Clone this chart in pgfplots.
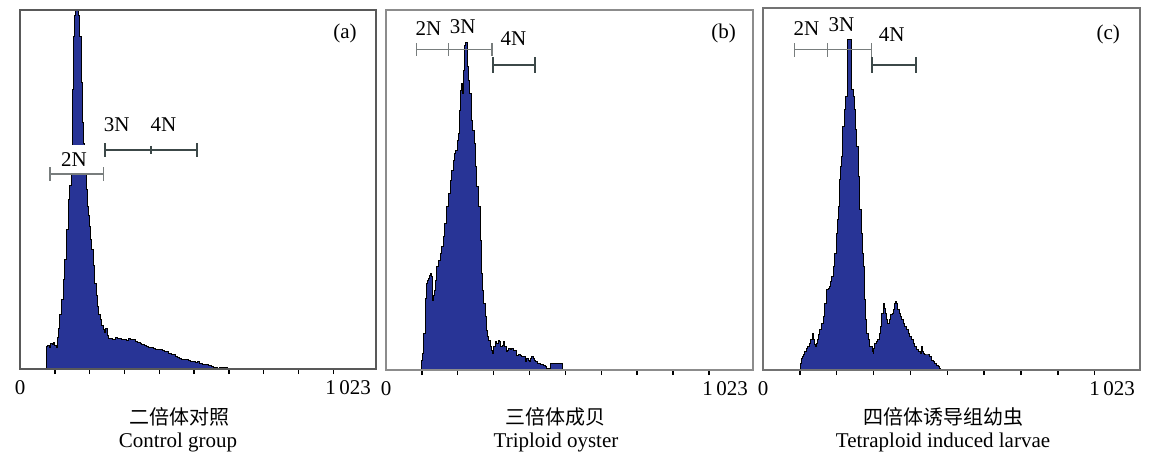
\documentclass[border=0pt]{standalone}
\usepackage{pgfplots}
\pgfplotsset{compat=1.18}
\usepackage{pgfplotstable}
\usepackage{fontspec}
\setmainfont{Liberation Serif}
\newfontfamily\cjk{Noto Sans CJK SC}
\definecolor{histblue}{RGB}{40,52,150}
\definecolor{gatelight}{RGB}{120,125,125}
\definecolor{gatedark}{RGB}{60,72,72}

\pgfplotstableread{
x h
0 0
76 0
77 68
80 72
84 64
87 78
92 75
96 80
100 70
104 66
107 95
110 123
114 165
119 208
124 270
129 328
134 420
139 508
143 550
147 588
150 678
152 840
155 998
158 1060
160 1200
166 1200
169 1060
172 998
176 860
180 740
182 678
186 588
190 540
193 488
196 460
199 428
203 390
206 358
210 310
215 258
219 220
222 188
226 165
230 148
235 130
239 118
243 110
247 123
250 100
254 93
260 92
265 88
268 90
274 95
280 92
287 93
293 90
300 88
306 86
312 92
318 90
325 88
331 84
338 80
345 78
350 75
357 70
364 68
370 66
376 64
383 63
390 60
396 58
402 58
409 55
415 53
421 53
428 48
434 45
440 43
446 38
453 36
459 33
465 30
472 30
479 28
485 26
491 24
498 23
504 20
510 22
517 18
523 15
530 14
536 13
542 10
549 7
556 6
562 5
568 3
574 4
580 4
590 4
597 0
1023 0
}\dataA

\pgfplotstableread{
x h
0 0
99 0
100 30
102 50
105 110
109 170
111 215
114 260
116 270
118 275
121 285
125 290
127 280
130 210
132 225
134 240
137 270
141 310
145 330
151 350
155 370
160 400
164 440
169 490
173 530
179 570
183 600
188 630
192 650
195 660
199 690
202 710
205 780
207 840
211 860
214 830
216 900
218 975
222 982
227 910
230 870
234 830
239 750
242 720
246 680
250 610
253 550
258 490
262 390
265 330
267 290
270 240
272 200
276 160
279 120
283 100
286 90
290 80
292 70
295 60
298 50
301 70
304 85
308 80
313 90
316 85
320 70
324 75
327 85
331 70
335 55
338 60
341 65
346 62
351 65
356 60
360 60
365 45
370 48
374 45
379 42
383 40
388 25
392 35
396 30
400 25
403 35
406 40
410 35
413 30
417 25
421 20
430 18
439 15
444 10
448 5
453 5
458 20
470 20
480 20
490 20
491 0
1023 0
}\dataB

\pgfplotstableread{
x h
0 0
101 0
102 20
104 35
106 40
109 45
113 55
118 65
122 70
127 80
130 90
134 110
136 100
138 90
141 75
143 70
145 80
147 90
151 105
154 120
158 140
163 160
166 180
168 200
172 240
177 245
181 250
184 265
186 280
190 310
193 330
195 350
199 410
202 450
204 490
208 570
211 610
213 640
217 730
220 760
222 780
225 820
228 990
240 840
243 840
246 820
249 780
252 720
254 670
258 580
261 520
263 480
267 410
270 350
272 310
276 210
279 150
281 110
285 90
288 75
290 70
294 70
297 55
299 50
301 65
303 80
308 85
312 90
315 110
318 130
322 170
326 200
329 185
331 170
335 150
339 140
343 150
347 165
350 170
353 180
357 200
360 205
363 200
366 180
369 170
372 160
376 150
380 140
385 130
390 120
394 110
398 100
403 90
407 80
412 70
417 60
421 55
426 50
430 70
433 55
435 50
439 45
445 45
452 40
457 30
462 25
466 20
471 15
475 10
480 5
481 0
1023 0
}\dataC

\pgfplotsset{
  panel/.style={
    anchor=south west, scale only axis,
    xmin=0, xmax=1023, ymin=0,
    xtick={100,200,...,900}, xticklabels={}, ytick=\empty,
    xtick pos=bottom,
    tick align=outside, major tick length=2.5pt,
    xtick style={black, line width=0.7pt},
    clip mode=individual,
    axis on top,
  },
  histfill/.style={const plot, fill=histblue, draw=none},
  histline/.style={const plot, black, line width=0.5pt},
}

\begin{document}
\begin{tikzpicture}[font=\fontsize{10.5pt}{12pt}\selectfont]
\useasboundingbox (0,0) rectangle (577pt,226pt);

% ---------- panel (a)
\begin{axis}[panel, at={(10pt,41.5pt)}, width=178pt, height=179.5pt, ymax=1078,
  axis line style={draw=black!65, line width=0.8pt}]
\addplot[histfill] table[x=x,y=h] {\dataA} \closedcycle;
\addplot[histline] table[x=x,y=h] {\dataA};
\node[fill=white, inner xsep=1pt, inner ysep=3.5pt] at (axis cs:155,630) {2N};
\addplot[gatelight, line width=0.7pt, |-|] coordinates {(84.3,586) (241.4,586)};
\addplot[gatedark, line width=0.8pt, |-|] coordinates {(242.3,658) (510.5,658)};
\addplot[gatedark, only marks, mark=|, mark size=2pt, line width=1pt] coordinates {(376.4,658)};
\node at (axis cs:278,733) {3N};
\node at (axis cs:412,733) {4N};
\node at (axis cs:934,1008) {(a)};
\node[anchor=north, yshift=-2pt] at (rel axis cs:0,0) {0};
\node[anchor=north east, yshift=-2pt, xshift=1pt] at (rel axis cs:1,0) {1\,023};
\end{axis}

% ---------- panel (b)
\begin{axis}[panel, at={(193pt,41pt)}, width=183.5pt, height=180pt, ymax=1080,
  axis line style={draw=black!45, line width=0.8pt}]
\addplot[histfill] table[x=x,y=h] {\dataB} \closedcycle;
\addplot[histline] table[x=x,y=h] {\dataB};
\addplot[gatelight, line width=0.7pt, |-|] coordinates {(83.7,962) (175.8,962)};
\addplot[gatelight, line width=0.7pt, -|] coordinates {(175.8,962) (297.6,962)};
\addplot[gatedark, line width=1pt, |-|] coordinates {(294.8,915) (418.5,915)};
\node at (axis cs:118,1025) {2N};
\node at (axis cs:214,1030) {3N};
\node at (axis cs:355,995) {4N};
\node at (axis cs:941,1010) {(b)};
\node[anchor=north, yshift=-2pt] at (rel axis cs:0,0) {0};
\node[anchor=north east, yshift=-2pt, xshift=1pt] at (rel axis cs:1,0) {1\,023};
\end{axis}

% ---------- panel (c)
\begin{axis}[panel, at={(381.5pt,41pt)}, width=188.5pt, height=181pt, ymax=1085,
  axis line style={draw=black!55, line width=0.8pt}]
\addplot[histfill] table[x=x,y=h] {\dataC} \closedcycle;
\addplot[histline] table[x=x,y=h] {\dataC};
\addplot[gatelight, line width=0.7pt, |-|] coordinates {(84.3,960) (176.6,960)};
\addplot[gatelight, line width=0.7pt, -|] coordinates {(176.6,960) (296.1,960)};
\addplot[gatedark, line width=1pt, |-|] coordinates {(294.3,915) (416.5,915)};
\node at (axis cs:118,1022) {2N};
\node at (axis cs:213,1035) {3N};
\node at (axis cs:349,1005) {4N};
\node at (axis cs:937,1005) {(c)};
\node[anchor=north, yshift=-2pt] at (rel axis cs:0,0) {0};
\node[anchor=north east, yshift=-2pt, xshift=1pt] at (rel axis cs:1,0) {1\,023};
\end{axis}

% ---------- captions
\node at (89.5pt,17.5pt) {\cjk\fontsize{10pt}{12pt}\selectfont 二倍体对照};
\node[anchor=base] at (89pt,2.5pt) {Control group};
\node at (277.5pt,17.5pt) {\cjk\fontsize{10pt}{12pt}\selectfont 三倍体成贝};
\node[anchor=base] at (278pt,2.5pt) {Triploid oyster};
\node at (471.5pt,17.5pt) {\cjk\fontsize{10pt}{12pt}\selectfont 四倍体诱导组幼虫};
\node[anchor=base] at (471.5pt,2.5pt) {Tetraploid induced larvae};
\end{tikzpicture}
\end{document}
